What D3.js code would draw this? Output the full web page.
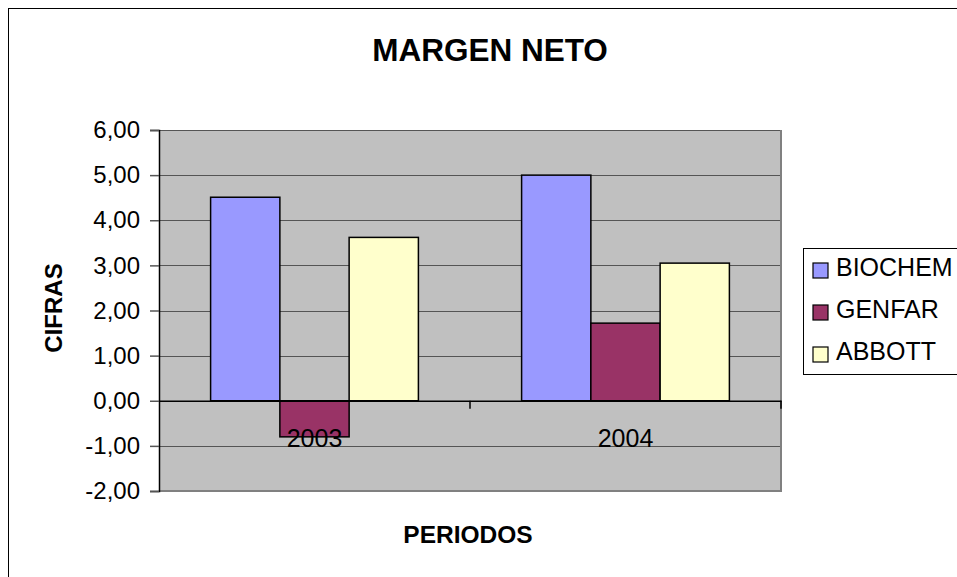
<!DOCTYPE html>
<html>
<head>
<meta charset="utf-8">
<script src="https://cdn.jsdelivr.net/npm/d3@7"></script>
<style>
  html, body { margin: 0; padding: 0; background: #fff; }
  svg { display: block; font-family: Arial, "Liberation Sans", sans-serif; }
</style>
</head>
<body>
<svg id="chart" width="957" height="577"></svg>
<script>
const categories = ["2003", "2004"];
const seriesNames = ["BIOCHEM", "GENFAR", "ABBOTT"];
const biochem = [4.51, 5.00];
const genfar = [-0.80, 1.72];
const abbott = [3.62, 3.05];
const seriesColors = ["#9999FF", "#993366", "#FFFFCC"];
const yTicks = [-2, -1, 0, 1, 2, 3, 4, 5, 6];
const title = "MARGEN NETO";
const yTitle = "CIFRAS";
const xTitle = "PERIODOS";

const seriesValues = [biochem, genfar, abbott];
const svg = d3.select("#chart");

// outer chart border
svg.append("rect").attr("x", 8.5).attr("y", 8.5).attr("width", 1000).attr("height", 1000)
  .attr("fill", "#fff").attr("stroke", "#000").attr("stroke-width", 1);

const pLeft = 159, pRight = 781, pTop = 130, pBottom = 491;

const x0 = d3.scaleBand().domain(categories).range([pLeft, pRight]).padding(0);
const x1 = d3.scaleBand().domain(seriesNames).range([0, x0.bandwidth()]).paddingInner(0).paddingOuter(0.745);
const y = d3.scaleLinear().domain([-2, 6]).range([pBottom, pTop]);

// plot area background
svg.append("rect").attr("x", pLeft).attr("y", pTop).attr("width", pRight - pLeft).attr("height", pBottom - pTop)
  .attr("fill", "#C0C0C0");

// gridlines
svg.append("g").selectAll("line").data(yTicks.filter(d => d !== 0)).join("line")
  .attr("x1", pLeft).attr("x2", pRight)
  .attr("y1", d => Math.round(y(d)) + 0.5).attr("y2", d => Math.round(y(d)) + 0.5)
  .attr("stroke", "#555").attr("stroke-width", 1);

// plot area right/bottom border
svg.append("path")
  .attr("d", `M${pRight},${pTop}V${pBottom}H${pLeft}`)
  .attr("fill", "none").attr("stroke", "#808080").attr("stroke-width", 2);

// bars
const flat = [];
categories.forEach((c, i) => seriesNames.forEach((s, j) => flat.push({c, s, j, v: seriesValues[j][i]})));
svg.append("g").selectAll("rect").data(flat).join("rect")
  .attr("x", d => x0(d.c) + x1(d.s))
  .attr("width", x1.bandwidth())
  .attr("y", d => y(Math.max(0, d.v)))
  .attr("height", d => Math.abs(y(d.v) - y(0)))
  .attr("fill", d => seriesColors[d.j])
  .attr("stroke", "#000").attr("stroke-width", 1.5);

// y axis
const yAxis = d3.axisLeft(y).tickValues(yTicks).tickSize(9).tickPadding(10)
  .tickFormat(d => d3.format(".2f")(d).replace(".", ",").replace("\u2212", "-"));
const yg = svg.append("g").attr("transform", `translate(${pLeft},0)`).call(yAxis);
yg.select(".domain").attr("stroke", "#000").attr("stroke-width", 1.5);
yg.selectAll(".tick line").attr("stroke", "#555").attr("stroke-width", 1.5);
yg.selectAll(".tick text").attr("font-size", 24).attr("fill", "#000")
  .attr("font-family", "Arial, 'Liberation Sans', sans-serif");

// category axis at zero
const xAxis = d3.axisBottom(x0).tickSize(0).tickPadding(0).tickFormat("");
const xg = svg.append("g").attr("transform", `translate(0,${y(0)})`).call(xAxis);
xg.select(".domain").attr("stroke", "#000").attr("stroke-width", 1.5);
// category boundary ticks
const boundaries = [pRight].concat(categories.slice(1).map(c => x0(c)));
xg.selectAll("line.bt").data(boundaries).join("line").attr("class", "bt")
  .attr("x1", d => d).attr("x2", d => d).attr("y1", 0).attr("y2", 8)
  .attr("stroke", "#000").attr("stroke-width", 1.5);
// category labels
svg.append("g").selectAll("text").data(categories).join("text")
  .attr("x", d => x0(d) + x0.bandwidth() / 2)
  .attr("y", y(0) + 46)
  .attr("text-anchor", "middle").attr("font-size", 25).attr("fill", "#000")
  .text(d => d);

// titles
svg.append("text").attr("x", 490).attr("y", 61).attr("text-anchor", "middle")
  .attr("font-size", 31.5).attr("font-weight", "bold").text(title);
svg.append("text").attr("x", 468).attr("y", 543).attr("text-anchor", "middle")
  .attr("font-size", 24.5).attr("font-weight", "bold").text(xTitle);
svg.append("text").attr("transform", "translate(62,308) rotate(-90)").attr("text-anchor", "middle")
  .attr("font-size", 24).attr("font-weight", "bold").text(yTitle);

// legend
const lg = svg.append("g");
lg.append("rect").attr("x", 803.5).attr("y", 248.5).attr("width", 200).attr("height", 126)
  .attr("fill", "#fff").attr("stroke", "#000").attr("stroke-width", 1);
const items = lg.selectAll("g.item").data(seriesNames).join("g").attr("class", "item")
  .attr("transform", (d, i) => `translate(0,${276 + i * 42})`);
items.append("rect").attr("x", 813).attr("y", -13).attr("width", 15).attr("height", 15)
  .attr("fill", (d, i) => seriesColors[i]).attr("stroke", "#000").attr("stroke-width", 1.2);
items.append("text").attr("x", 836).attr("y", 0).attr("font-size", 25).attr("fill", "#000").text(d => d);
</script>
</body>
</html>
